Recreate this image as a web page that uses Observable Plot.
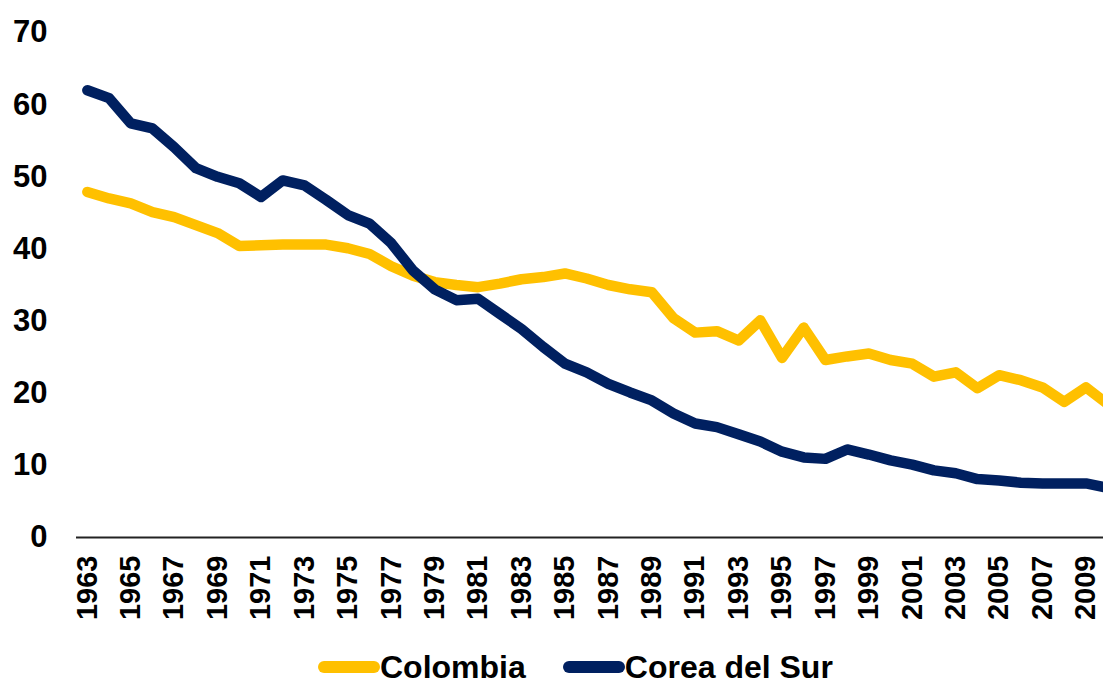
<!DOCTYPE html>
<html>
<head>
<meta charset="utf-8">
<script src="https://cdn.jsdelivr.net/npm/d3@7"></script>
<script src="https://cdn.jsdelivr.net/npm/@observablehq/plot@0.6"></script>
<style>
  html, body { margin: 0; padding: 0; background: #fff; }
  #wrap { position: relative; width: 1103px; height: 684px; overflow: hidden; font-family: "Liberation Sans", Arial, sans-serif; font-weight: bold; }
  #legend { position: absolute; left: 318px; top: 651px; height: 32px; line-height: 32px; display: flex; align-items: center; font-size: 32px; color: #000; white-space: nowrap; }
  .sw { display: inline-block; width: 62px; height: 12px; border-radius: 6px; }
  .item { display: flex; align-items: center; margin-right: 37px; line-height: 32px; }
</style>
</head>
<body>
<div id="wrap"><div id="chart"></div>
<div id="legend"></div></div>
<script>
const years = d3.range(1963, 2011);
const colombia = [47.9, 47.0, 46.3, 45.1, 44.4, 43.3, 42.2, 40.4, 40.5, 40.6, 40.6, 40.6, 40.1, 39.3, 37.6, 36.3, 35.4, 35.0, 34.7, 35.2, 35.8, 36.1, 36.6, 35.9, 35.0, 34.4, 34.0, 30.4, 28.4, 28.6, 27.3, 30.1, 24.9, 29.1, 24.6, 25.1, 25.5, 24.6, 24.1, 22.3, 22.9, 20.7, 22.5, 21.8, 20.8, 18.8, 20.8, 18.5];
const corea = [62.0, 60.9, 57.4, 56.7, 54.1, 51.2, 50.0, 49.1, 47.2, 49.5, 48.8, 46.8, 44.7, 43.5, 40.8, 37.0, 34.4, 32.9, 33.1, 31.0, 28.9, 26.4, 24.1, 22.9, 21.3, 20.1, 19.0, 17.2, 15.8, 15.3, 14.3, 13.3, 11.9, 11.1, 10.9, 12.2, 11.5, 10.7, 10.1, 9.3, 8.9, 8.1, 7.9, 7.6, 7.5, 7.5, 7.5, 6.9];
const seriesNames = ["Colombia", "Corea del Sur"];
const seriesColors = ["#FFC000", "#002060"];
const xTicks = d3.range(1963, 2010, 2);
const yTicks = [0, 10, 20, 30, 40, 50, 60, 70];

const data = [
  ...years.map((y, i) => ({year: y, value: colombia[i], serie: seriesNames[0]})),
  ...years.map((y, i) => ({year: y, value: corea[i], serie: seriesNames[1]}))
];

const chart = Plot.plot({
  width: 1103,
  height: 640,
  marginLeft: 76,
  marginRight: 0,
  marginTop: 32,
  marginBottom: 103,
  style: {fontFamily: '"Liberation Sans", Arial, sans-serif', fontWeight: "bold", color: "#000", background: "#fff"},
  x: {domain: [1962.5, 2010.5], range: [76, 1118]},
  y: {domain: [0, 70]},
  color: {domain: seriesNames, range: seriesColors},
  marks: [
    Plot.axisY({ticks: yTicks, tickSize: 0, tickPadding: 29, fontSize: 31, fontWeight: "bold", label: null}),
    Plot.axisX({ticks: xTicks, tickFormat: d => String(d), tickSize: 0, tickPadding: 18, tickRotate: -90, fontSize: 29, fontWeight: "bold", label: null}),
    Plot.ruleY([0], {stroke: "#222", strokeWidth: 2}),
    Plot.line(data, {x: "year", y: "value", z: "serie", stroke: "serie", strokeWidth: 10.5, strokeLinejoin: "round", strokeLinecap: "round", clip: false})
  ]
});
document.getElementById("chart").appendChild(chart);

const legend = document.getElementById("legend");
seriesNames.forEach((n, i) => {
  const it = document.createElement("span");
  it.className = "item";
  const sw = document.createElement("span");
  sw.className = "sw";
  sw.style.background = seriesColors[i];
  it.appendChild(sw);
  const t = document.createElement("span");
  t.textContent = n;
  it.appendChild(t);
  legend.appendChild(it);
});
</script>
</body>
</html>
